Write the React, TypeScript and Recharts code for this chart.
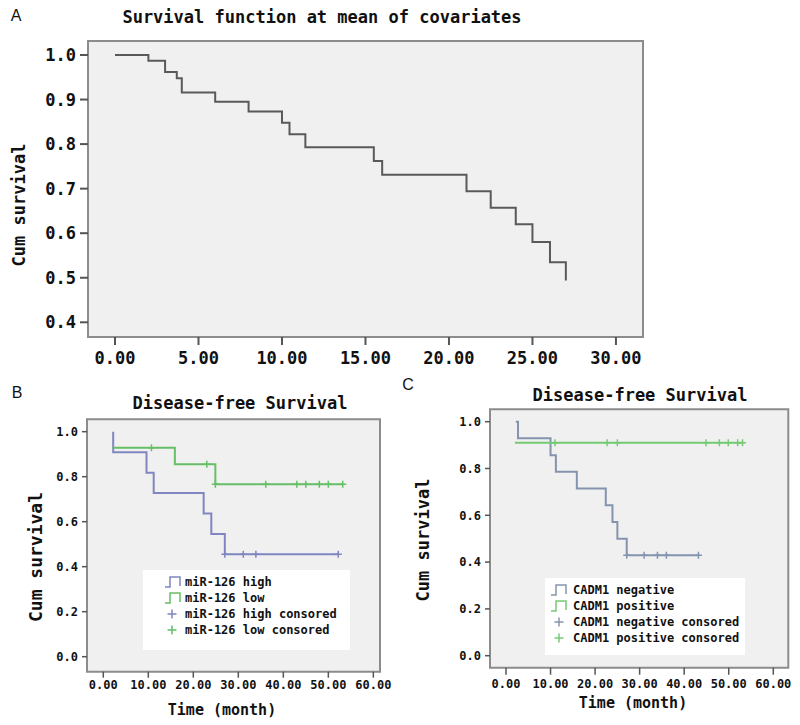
import React from 'react';
import { ComposedChart, Line, Scatter, XAxis, YAxis, ReferenceArea } from 'recharts';

// ---------- Panel A data ----------
const aTimes = [0, 2.0, 3.0, 3.7, 4.0, 6.0, 8.0, 10.0, 10.45, 11.4, 15.5, 16.0, 21.05, 22.5, 24.0, 25.0, 26.05, 27.0];
const aSurv = [1.0, 0.987, 0.962, 0.948, 0.916, 0.895, 0.873, 0.848, 0.822, 0.793, 0.762, 0.731, 0.694, 0.657, 0.62, 0.58, 0.535, 0.494];
const aXTicks = [0, 5, 10, 15, 20, 25, 30];
const aYTicks = [0.4, 0.5, 0.6, 0.7, 0.8, 0.9, 1.0];

// ---------- Panel B data ----------
const bHighTimes = [2.2, 2.2, 9.6, 11.2, 22.3, 24.0, 27.0, 52.2];
const bHighSurv = [1.0, 0.909, 0.818, 0.727, 0.636, 0.545, 0.455, 0.455];
const bHighCensTimes = [27.0, 31.1, 33.9, 52.2];
const bHighCensSurv = [0.455, 0.455, 0.455, 0.455];
const bLowTimes = [2.1, 15.9, 24.9, 53.2];
const bLowSurv = [0.929, 0.855, 0.766, 0.766];
const bLowCensTimes = [10.7, 23.0, 24.9, 36.1, 43.0, 45.0, 48.0, 50.0, 53.2];
const bLowCensSurv = [0.929, 0.855, 0.766, 0.766, 0.766, 0.766, 0.766, 0.766, 0.766];

// ---------- Panel C data ----------
const cNegTimes = [2.2, 2.7, 10.0, 11.2, 15.9, 22.4, 23.9, 25.0, 27.1, 43.2];
const cNegSurv = [1.0, 0.929, 0.857, 0.786, 0.714, 0.643, 0.571, 0.5, 0.429, 0.429];
const cNegCensTimes = [27.1, 31.0, 34.0, 36.0, 43.2];
const cNegCensSurv = [0.429, 0.429, 0.429, 0.429, 0.429];
const cPosTimes = [2.0, 53.1];
const cPosSurv = [0.91, 0.91];
const cPosCensTimes = [11.0, 22.7, 25.0, 44.9, 47.9, 49.9, 52.0, 53.1];
const cPosCensSurv = [0.91, 0.91, 0.91, 0.91, 0.91, 0.91, 0.91, 0.91];

const bcXTicks = [0, 10, 20, 30, 40, 50, 60];
const bcYTicks = [0, 0.2, 0.4, 0.6, 0.8, 1.0];

const bLegend = ['miR-126 high', 'miR-126 low', 'miR-126 high consored', 'miR-126 low consored'];
const cLegend = ['CADM1 negative', 'CADM1 positive', 'CADM1 negative consored', 'CADM1 positive consored'];

const MONO = '"DejaVu Sans Mono", "Liberation Mono", monospace';
const SANS = '"Liberation Sans", Arial, sans-serif';

const zip = (t: number[], s: number[]) => t.map((x, i) => ({ t: x, s: s[i] }));

const plusShape = (color: string) => (props: any) => {
  const { cx, cy } = props;
  if (cx == null || cy == null) return <g />;
  return (
    <path
      d={`M${cx - 3.5},${cy}H${cx + 3.5}M${cx},${cy - 3.5}V${cy + 3.5}`}
      stroke={color}
      strokeWidth={1.5}
      fill="none"
    />
  );
};

type Box = { x: number; y: number; w: number; h: number };
type Frame = { l: number; t: number; r: number; b: number };

function chartGeom(box: Box, frame: Frame, xAxisH: number) {
  return {
    margin: { top: frame.t - box.y, right: box.x + box.w - frame.r, left: 0, bottom: box.y + box.h - frame.b - xAxisH },
    yWidth: frame.l - box.x,
  };
}

const BLUE_B = '#7f86c0';
const GREEN_B = '#66bf66';
const BLUE_C = '#8594ae';
const GREEN_C = '#74cb74';

function App() {
  const boxA = { x: 0, y: 0, w: 660, h: 370 };
  const frameA = { l: 88, t: 41, r: 643, b: 337 };
  const gA = chartGeom(boxA, frameA, 30);

  const boxB = { x: 0, y: 370, w: 400, h: 355 };
  const frameB = { l: 87, t: 419.3, r: 380, b: 671.7 };
  const gB = chartGeom(boxB, frameB, 30);

  const boxC = { x: 400, y: 370, w: 400, h: 355 };
  const frameC = { l: 490, t: 409.3, r: 788.3, b: 667.7 };
  const gC = chartGeom(boxC, frameC, 30);

  const bigTick = { fill: '#111', fontSize: 17, fontWeight: 'bold', fontFamily: MONO };
  const smallTick = { fill: '#111', fontSize: 12, fontWeight: 'bold', fontFamily: MONO };

  const frameStroke = '#8c8c8c';
  const bg = '#f0f0f0';

  const stepIcon = (x: number, y: number, color: string) => (
    <path d={`M${x},${y + 5}H${x + 5}V${y - 5}H${x + 15}V${y + 4}`} stroke={color} strokeWidth={1.5} fill="none" />
  );
  const plusIcon = (x: number, y: number, color: string) => (
    <path d={`M${x - 4.5},${y}H${x + 4.5}M${x},${y - 4.5}V${y + 4.5}`} stroke={color} strokeWidth={1.5} fill="none" />
  );

  return (
    <div style={{ position: 'absolute', left: 0, top: 0, width: 800, height: 725, background: '#fff', overflow: 'hidden' }}>
      {/* Panel A */}
      <div style={{ position: 'absolute', left: boxA.x, top: boxA.y }}>
        <ComposedChart width={boxA.w} height={boxA.h} margin={gA.margin}>
          <XAxis
            dataKey="t"
            type="number"
            domain={[-1.617, 31.62]}
            ticks={aXTicks}
            allowDataOverflow
            height={30}
            axisLine={false}
            tickLine={{ stroke: '#555', strokeWidth: 2 }}
            tickSize={8}
            tickMargin={7}
            tick={bigTick}
            tickFormatter={(v: number) => v.toFixed(2)}
          />
          <YAxis
            dataKey="s"
            type="number"
            domain={[0.367, 1.0314]}
            ticks={aYTicks}
            allowDataOverflow
            width={gA.yWidth}
            axisLine={false}
            tickLine={{ stroke: '#555', strokeWidth: 2 }}
            tickSize={8}
            tickMargin={4}
            tick={bigTick}
            tickFormatter={(v: number) => v.toFixed(1)}
          />
          <ReferenceArea x1={-1.617} x2={31.62} y1={0.367} y2={1.0314} fill={bg} fillOpacity={1} stroke={frameStroke} strokeWidth={2} ifOverflow="visible" />
          <Line data={zip(aTimes, aSurv)} dataKey="s" type="stepAfter" stroke="#595959" strokeWidth={2} dot={false} isAnimationActive={false} />
        </ComposedChart>
      </div>

      {/* Panel B */}
      <div style={{ position: 'absolute', left: boxB.x, top: boxB.y }}>
        <ComposedChart width={boxB.w} height={boxB.h} margin={gB.margin}>
          <XAxis
            dataKey="t"
            type="number"
            domain={[-3.62, 61.48]}
            ticks={bcXTicks}
            allowDataOverflow
            height={30}
            axisLine={false}
            tickLine={{ stroke: '#555', strokeWidth: 1.5 }}
            tickSize={6}
            tickMargin={3}
            tick={smallTick}
            tickFormatter={(v: number) => v.toFixed(2)}
          />
          <YAxis
            dataKey="s"
            type="number"
            domain={[-0.0667, 1.055]}
            ticks={bcYTicks}
            allowDataOverflow
            width={gB.yWidth}
            axisLine={false}
            tickLine={{ stroke: '#555', strokeWidth: 1.5 }}
            tickSize={5}
            tickMargin={4}
            tick={smallTick}
            tickFormatter={(v: number) => v.toFixed(1)}
          />
          <ReferenceArea x1={-3.62} x2={61.48} y1={-0.0667} y2={1.055} fill={bg} fillOpacity={1} stroke={frameStroke} strokeWidth={2} ifOverflow="visible" />
          <Line data={zip(bHighTimes, bHighSurv)} dataKey="s" type="stepAfter" stroke={BLUE_B} strokeWidth={2} dot={false} isAnimationActive={false} />
          <Line data={zip(bLowTimes, bLowSurv)} dataKey="s" type="stepAfter" stroke={GREEN_B} strokeWidth={2} dot={false} isAnimationActive={false} />
          <Scatter data={zip(bHighCensTimes, bHighCensSurv)} dataKey="s" shape={plusShape(BLUE_B)} isAnimationActive={false} />
          <Scatter data={zip(bLowCensTimes, bLowCensSurv)} dataKey="s" shape={plusShape(GREEN_B)} isAnimationActive={false} />
        </ComposedChart>
      </div>

      {/* Panel C */}
      <div style={{ position: 'absolute', left: boxC.x, top: boxC.y }}>
        <ComposedChart width={boxC.w} height={boxC.h} margin={gC.margin}>
          <XAxis
            dataKey="t"
            type="number"
            domain={[-3.59, 63.37]}
            ticks={bcXTicks}
            allowDataOverflow
            height={30}
            axisLine={false}
            tickLine={{ stroke: '#555', strokeWidth: 1.5 }}
            tickSize={7}
            tickMargin={5}
            tick={smallTick}
            tickFormatter={(v: number) => v.toFixed(2)}
          />
          <YAxis
            dataKey="s"
            type="number"
            domain={[-0.0513, 1.053]}
            ticks={bcYTicks}
            allowDataOverflow
            width={gC.yWidth}
            axisLine={false}
            tickLine={{ stroke: '#555', strokeWidth: 1.5 }}
            tickSize={5}
            tickMargin={4}
            tick={smallTick}
            tickFormatter={(v: number) => v.toFixed(1)}
          />
          <ReferenceArea x1={-3.59} x2={63.37} y1={-0.0513} y2={1.053} fill={bg} fillOpacity={1} stroke={frameStroke} strokeWidth={2} ifOverflow="visible" />
          <Line data={zip(cNegTimes, cNegSurv)} dataKey="s" type="stepAfter" stroke={BLUE_C} strokeWidth={2} dot={false} isAnimationActive={false} />
          <Line data={zip(cPosTimes, cPosSurv)} dataKey="s" type="stepAfter" stroke={GREEN_C} strokeWidth={2} dot={false} isAnimationActive={false} />
          <Scatter data={zip(cNegCensTimes, cNegCensSurv)} dataKey="s" shape={plusShape(BLUE_C)} isAnimationActive={false} />
          <Scatter data={zip(cPosCensTimes, cPosCensSurv)} dataKey="s" shape={plusShape(GREEN_C)} isAnimationActive={false} />
        </ComposedChart>
      </div>

      {/* Text overlay: titles, axis labels, panel letters, legends */}
      <svg width={800} height={725} style={{ position: 'absolute', left: 0, top: 0, pointerEvents: 'none' }}>
        <g fontFamily={MONO} fontWeight="bold" fill="#111">
          <text x={16} y={15} fontFamily={SANS} fontWeight="normal" fontSize={16} textAnchor="middle" dominantBaseline="central">A</text>
          <text x={322} y={17} fontSize={17} textAnchor="middle" dominantBaseline="central">Survival function at mean of covariates</text>
          <text x={19} y={205} fontSize={17} textAnchor="middle" dominantBaseline="central" transform="rotate(-90 19 205)">Cum survival</text>

          <text x={17} y={392} fontFamily={SANS} fontWeight="normal" fontSize={16} textAnchor="middle" dominantBaseline="central">B</text>
          <text x={240} y={403} fontSize={17} textAnchor="middle" dominantBaseline="central">Disease-free Survival</text>
          <text x={35} y={557} fontSize={18} textAnchor="middle" dominantBaseline="central" transform="rotate(-90 35 557)">Cum survival</text>
          <text x={222} y={710} fontSize={15} textAnchor="middle" dominantBaseline="central">Time (month)</text>

          <text x={408} y={384} fontFamily={SANS} fontWeight="normal" fontSize={16} textAnchor="middle" dominantBaseline="central">C</text>
          <text x={640} y={395} fontSize={17} textAnchor="middle" dominantBaseline="central">Disease-free Survival</text>
          <text x={423} y={540} fontSize={17} textAnchor="middle" dominantBaseline="central" transform="rotate(-90 423 540)">Cum survival</text>
          <text x={633} y={703} fontSize={15} textAnchor="middle" dominantBaseline="central">Time (month)</text>
        </g>

        {/* Legend B */}
        <rect x={143} y={570} width={207} height={80} fill="#fff" />
        {stepIcon(165, 582, BLUE_B)}
        {stepIcon(165, 598, GREEN_B)}
        {plusIcon(172, 614, BLUE_B)}
        {plusIcon(172, 630, GREEN_B)}
        <g fontFamily={MONO} fontWeight="bold" fontSize={12} fill="#111">
          {bLegend.map((s, i) => (
            <text key={s} x={185} y={582 + i * 16} dominantBaseline="central">{s}</text>
          ))}
        </g>

        {/* Legend C */}
        <rect x={545} y={578} width={200} height={77} fill="#fff" />
        {stepIcon(551, 590, BLUE_C)}
        {stepIcon(551, 606, GREEN_C)}
        {plusIcon(559, 622, BLUE_C)}
        {plusIcon(559, 638, GREEN_C)}
        <g fontFamily={MONO} fontWeight="bold" fontSize={12} fill="#111">
          {cLegend.map((s, i) => (
            <text key={s} x={573} y={590 + i * 16} dominantBaseline="central">{s}</text>
          ))}
        </g>
      </svg>
    </div>
  );
}

export default App;
